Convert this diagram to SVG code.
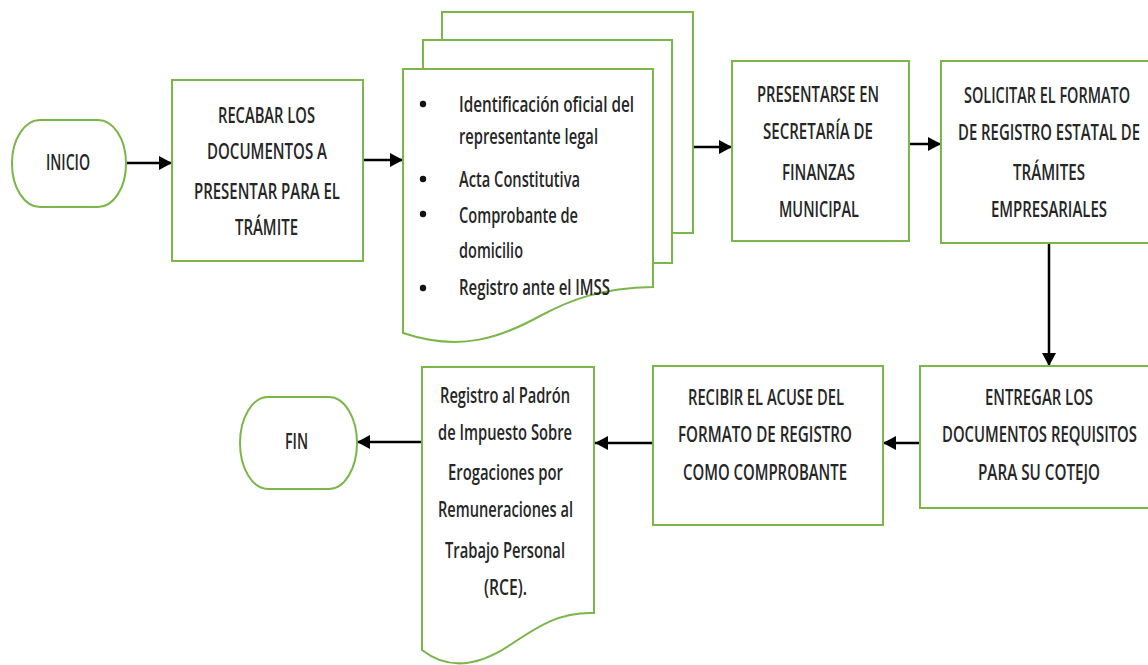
<svg xmlns="http://www.w3.org/2000/svg" width="1148" height="665" viewBox="0 0 1148 665">
  <style>
    .shape { fill: #ffffff; stroke: #7ab648; stroke-width: 2; }
    .label { font-family: "Open Sans", "Liberation Sans", sans-serif; font-size: 21px; font-weight: 600; fill: #262626; }
    .wire { fill: none; stroke: #000000; stroke-width: 2.5; marker-end: url(#arrow); }
    .dot { fill: #111111; }
  </style>
  <defs>
    <marker id="arrow" markerUnits="userSpaceOnUse" markerWidth="14" markerHeight="14" refX="13" refY="7" orient="auto">
      <path d="M0,0 L13,7 L0,14 Z" fill="#000000"/>
    </marker>
  </defs>

  <rect width="1148" height="665" fill="#ffffff"/>

  <!-- connectors -->
  <g id="connectors">
    <path class="wire" d="M126,163 H172"/>
    <path class="wire" d="M363,160 H403"/>
    <path class="wire" d="M693,147 H732"/>
    <path class="wire" d="M909,144 H941"/>
    <path class="wire" d="M1049,243 V366"/>
    <path class="wire" d="M920,443 H883"/>
    <path class="wire" d="M653,443 H595"/>
    <path class="wire" d="M422,442 H357"/>
  </g>

  <!-- start terminal -->
  <g id="inicio">
    <rect class="shape" x="12" y="120" width="114" height="87" rx="28" ry="43"/>
    <text class="label" x="46" y="170" textLength="44" lengthAdjust="spacingAndGlyphs">INICIO</text>
  </g>

  <!-- gather documents -->
  <g id="recabar">
    <rect class="shape" x="172" y="80" width="191" height="181"/>
    <text class="label">
      <tspan x="218" y="123" textLength="97" lengthAdjust="spacingAndGlyphs">RECABAR LOS</tspan>
      <tspan x="207" y="159" textLength="120" lengthAdjust="spacingAndGlyphs">DOCUMENTOS A</tspan>
      <tspan x="194" y="199" textLength="146" lengthAdjust="spacingAndGlyphs">PRESENTAR PARA EL</tspan>
      <tspan x="235" y="235" textLength="63" lengthAdjust="spacingAndGlyphs">TRÁMITE</tspan>
    </text>
  </g>

  <!-- stacked documents list -->
  <g id="documentos">
    <rect class="shape" x="442" y="12" width="251" height="221"/>
    <rect class="shape" x="423" y="40" width="249" height="223"/>
    <path class="shape" d="M403,69 H653 V287 C 600,288 570,300 540,316 C 500,338 460,352 403,333 Z"/>
    <circle class="dot" cx="423" cy="104" r="3.2"/>
    <circle class="dot" cx="423" cy="179" r="3.2"/>
    <circle class="dot" cx="423" cy="214" r="3.2"/>
    <circle class="dot" cx="423" cy="288" r="3.2"/>
    <text class="label">
      <tspan x="459" y="112" textLength="175" lengthAdjust="spacingAndGlyphs">Identificación  oficial  del</tspan>
      <tspan x="459" y="144" textLength="139" lengthAdjust="spacingAndGlyphs">representante legal</tspan>
      <tspan x="459" y="187" textLength="121" lengthAdjust="spacingAndGlyphs">Acta Constitutiva</tspan>
      <tspan x="459" y="223" textLength="119" lengthAdjust="spacingAndGlyphs">Comprobante de</tspan>
      <tspan x="459" y="258" textLength="64" lengthAdjust="spacingAndGlyphs">domicilio</tspan>
      <tspan x="459" y="295" textLength="151" lengthAdjust="spacingAndGlyphs">Registro ante el IMSS</tspan>
    </text>
  </g>

  <!-- present at the finance office -->
  <g id="presentarse">
    <rect class="shape" x="732" y="61" width="177" height="180"/>
    <text class="label">
      <tspan x="757" y="102" textLength="122" lengthAdjust="spacingAndGlyphs">PRESENTARSE EN</tspan>
      <tspan x="763" y="139" textLength="110" lengthAdjust="spacingAndGlyphs">SECRETARÍA DE</tspan>
      <tspan x="782" y="180" textLength="73" lengthAdjust="spacingAndGlyphs">FINANZAS</tspan>
      <tspan x="779" y="217" textLength="80" lengthAdjust="spacingAndGlyphs">MUNICIPAL</tspan>
    </text>
  </g>

  <!-- request the registration form; box runs past the right edge -->
  <g id="solicitar">
    <rect class="shape" x="941" y="61" width="220" height="182"/>
    <text class="label">
      <tspan x="964" y="103" textLength="166" lengthAdjust="spacingAndGlyphs">SOLICITAR EL FORMATO</tspan>
      <tspan x="958" y="140" textLength="182" lengthAdjust="spacingAndGlyphs">DE REGISTRO ESTATAL DE</tspan>
      <tspan x="1013" y="180" textLength="72" lengthAdjust="spacingAndGlyphs">TRÁMITES</tspan>
      <tspan x="991" y="217" textLength="116" lengthAdjust="spacingAndGlyphs">EMPRESARIALES</tspan>
    </text>
  </g>

  <!-- hand over documents -->
  <g id="entregar">
    <rect class="shape" x="920" y="366" width="240" height="142"/>
    <text class="label">
      <tspan x="985" y="405" textLength="108" lengthAdjust="spacingAndGlyphs">ENTREGAR LOS</tspan>
      <tspan x="942" y="442" textLength="195" lengthAdjust="spacingAndGlyphs">DOCUMENTOS REQUISITOS</tspan>
      <tspan x="978" y="480" textLength="122" lengthAdjust="spacingAndGlyphs">PARA SU COTEJO</tspan>
    </text>
  </g>

  <!-- receive acknowledgement -->
  <g id="recibir">
    <rect class="shape" x="653" y="366" width="230" height="159"/>
    <text class="label">
      <tspan x="688" y="405" textLength="156" lengthAdjust="spacingAndGlyphs">RECIBIR EL ACUSE DEL</tspan>
      <tspan x="678" y="442" textLength="174" lengthAdjust="spacingAndGlyphs">FORMATO DE REGISTRO</tspan>
      <tspan x="683" y="480" textLength="164" lengthAdjust="spacingAndGlyphs">COMO COMPROBANTE</tspan>
    </text>
  </g>

  <!-- tax registry document -->
  <g id="registro">
    <path class="shape" d="M422,367 H594 V613 C 560,612 540,625 510,645 C 480,665 450,672 422,650 Z"/>
    <text class="label">
      <tspan x="440" y="403" textLength="130" lengthAdjust="spacingAndGlyphs">Registro al Padrón</tspan>
      <tspan x="438" y="440" textLength="134" lengthAdjust="spacingAndGlyphs">de Impuesto Sobre</tspan>
      <tspan x="448" y="480" textLength="115" lengthAdjust="spacingAndGlyphs">Erogaciones por</tspan>
      <tspan x="438" y="517" textLength="135" lengthAdjust="spacingAndGlyphs">Remuneraciones al</tspan>
      <tspan x="445" y="558" textLength="120" lengthAdjust="spacingAndGlyphs">Trabajo Personal</tspan>
      <tspan x="484" y="595" textLength="43" lengthAdjust="spacingAndGlyphs">(RCE).</tspan>
    </text>
  </g>

  <!-- end terminal -->
  <g id="fin">
    <rect class="shape" x="240" y="397" width="117" height="92" rx="28" ry="46"/>
    <text class="label" x="285" y="449" textLength="23" lengthAdjust="spacingAndGlyphs">FIN</text>
  </g>
</svg>
